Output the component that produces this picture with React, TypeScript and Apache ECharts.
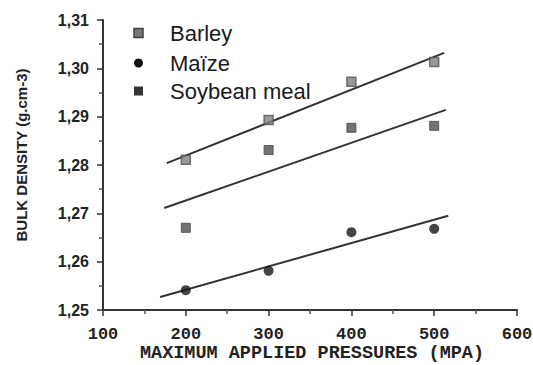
import React, { useEffect, useRef } from "react";
import * as echarts from "echarts";

// Measured points
const pressures = [200, 300, 400, 500];
const barley = [1.2811, 1.2893, 1.2972, 1.3013];
const maize = [1.2541, 1.2581, 1.2661, 1.2668];
const soybean = [1.267, 1.2831, 1.2877, 1.2881];

// Fitted lines (end points)
const barleyFitX = [177, 512];
const barleyFitY = [1.2804, 1.3032];
const soybeanFitX = [174, 514];
const soybeanFitY = [1.2711, 1.2914];
const maizeFitX = [169, 517];
const maizeFitY = [1.2527, 1.2695];

const xTicks = { min: 100, max: 600, interval: 100 };
const yTicks = { min: 1.25, max: 1.31, interval: 0.01 };

const legendNames = ["Barley", "Maïze", "Soybean meal"];
const yTitle = "BULK DENSITY (g.cm-3)";
const xTitle = "MAXIMUM APPLIED PRESSURES (MPA)";

const pairs = (xs: number[], ys: number[]) => xs.map((x, i) => [x, ys[i]]);

export default function App() {
  const ref = useRef<HTMLDivElement>(null);
  useEffect(() => {
    if (!ref.current) return;
    const chart = echarts.init(ref.current, null, { renderer: "svg" });
    const lineStyle = { color: "#333", width: 2 };
    const legendY = [33, 63, 91];
    chart.setOption({
      animation: false,
      backgroundColor: "#fff",
      grid: { left: 103, right: 16, top: 20, bottom: 55, containLabel: false, outerBoundsMode: "none" },
      xAxis: {
        type: "value",
        min: xTicks.min,
        max: xTicks.max,
        interval: xTicks.interval,
        axisLine: { lineStyle: { color: "#333", width: 2 } },
        axisTick: { inside: false, length: 6, lineStyle: { color: "#333", width: 1.5 } },
        minorTick: { show: true, splitNumber: 2, length: 4, lineStyle: { color: "#555", width: 1.5 } },
        axisLabel: { margin: 16, fontFamily: "Liberation Mono", fontWeight: "bold", fontSize: 17, color: "#222" },
        splitLine: { show: false },
      },
      yAxis: {
        type: "value",
        min: yTicks.min,
        max: yTicks.max,
        interval: yTicks.interval,
        axisLine: { show: true, lineStyle: { color: "#333", width: 2 } },
        axisTick: { show: true, inside: false, length: 6, lineStyle: { color: "#333", width: 1.5 } },
        minorTick: { show: true, splitNumber: 2, length: 4, lineStyle: { color: "#555", width: 1.5 } },
        axisLabel: {
          margin: 14,
          fontFamily: "Liberation Sans",
          fontWeight: "bold",
          fontSize: 16,
          color: "#222",
          formatter: (v: number) => v.toFixed(2).replace(".", ","),
        },
        splitLine: { show: false },
      },
      graphic: [
        {
          type: "text",
          x: 21,
          y: 155,
          rotation: Math.PI / 2,
          style: {
            text: yTitle,
            fontFamily: "Liberation Sans",
            fontWeight: "bold",
            fontSize: 15,
            fill: "#222",
            align: "center",
            verticalAlign: "middle",
          },
        },
        {
          type: "text",
          x: 312,
          y: 353,
          style: {
            text: xTitle,
            fontFamily: "Liberation Mono",
            fontWeight: "bold",
            fontSize: 18.5,
            fill: "#222",
            align: "center",
            verticalAlign: "middle",
          },
        },
        { type: "rect", shape: { x: 134, y: legendY[0] - 4.5, width: 9, height: 9 }, style: { fill: "#777", stroke: "#444", lineWidth: 1.5 } },
        { type: "circle", shape: { cx: 138.5, cy: legendY[1], r: 4.5 }, style: { fill: "#111" } },
        { type: "rect", shape: { x: 134, y: legendY[2] - 4.5, width: 9, height: 9 }, style: { fill: "#333" } },
        ...legendNames.map((n, i) => ({
          type: "text",
          x: 170,
          y: legendY[i],
          style: {
            text: n,
            fontFamily: "Liberation Sans",
            fontSize: 22,
            fill: "#1a1a1a",
            verticalAlign: "middle",
          },
        })),
      ],
      series: [
        { type: "line", data: pairs(barleyFitX, barleyFitY), symbol: "none", lineStyle, silent: true },
        { type: "line", data: pairs(soybeanFitX, soybeanFitY), symbol: "none", lineStyle, silent: true },
        { type: "line", data: pairs(maizeFitX, maizeFitY), symbol: "none", lineStyle, silent: true },
        {
          name: legendNames[0],
          type: "scatter",
          data: pairs(pressures, barley),
          symbol: "rect",
          symbolSize: 9,
          itemStyle: { color: "#808080", borderColor: "#555", borderWidth: 1.5 },
          z: 5,
        },
        {
          name: legendNames[1],
          type: "scatter",
          data: pairs(pressures, maize),
          symbol: "circle",
          symbolSize: 10,
          itemStyle: { color: "#151515" },
          z: 5,
        },
        {
          name: legendNames[2],
          type: "scatter",
          data: pairs(pressures, soybean),
          symbol: "rect",
          symbolSize: 9,
          itemStyle: { color: "#505050", borderColor: "#444", borderWidth: 1 },
          z: 5,
        },
      ],
    });
    return () => chart.dispose();
  }, []);
  return <div ref={ref} style={{ width: 533, height: 365, position: "absolute", left: 0, top: 0 }} />;
}
